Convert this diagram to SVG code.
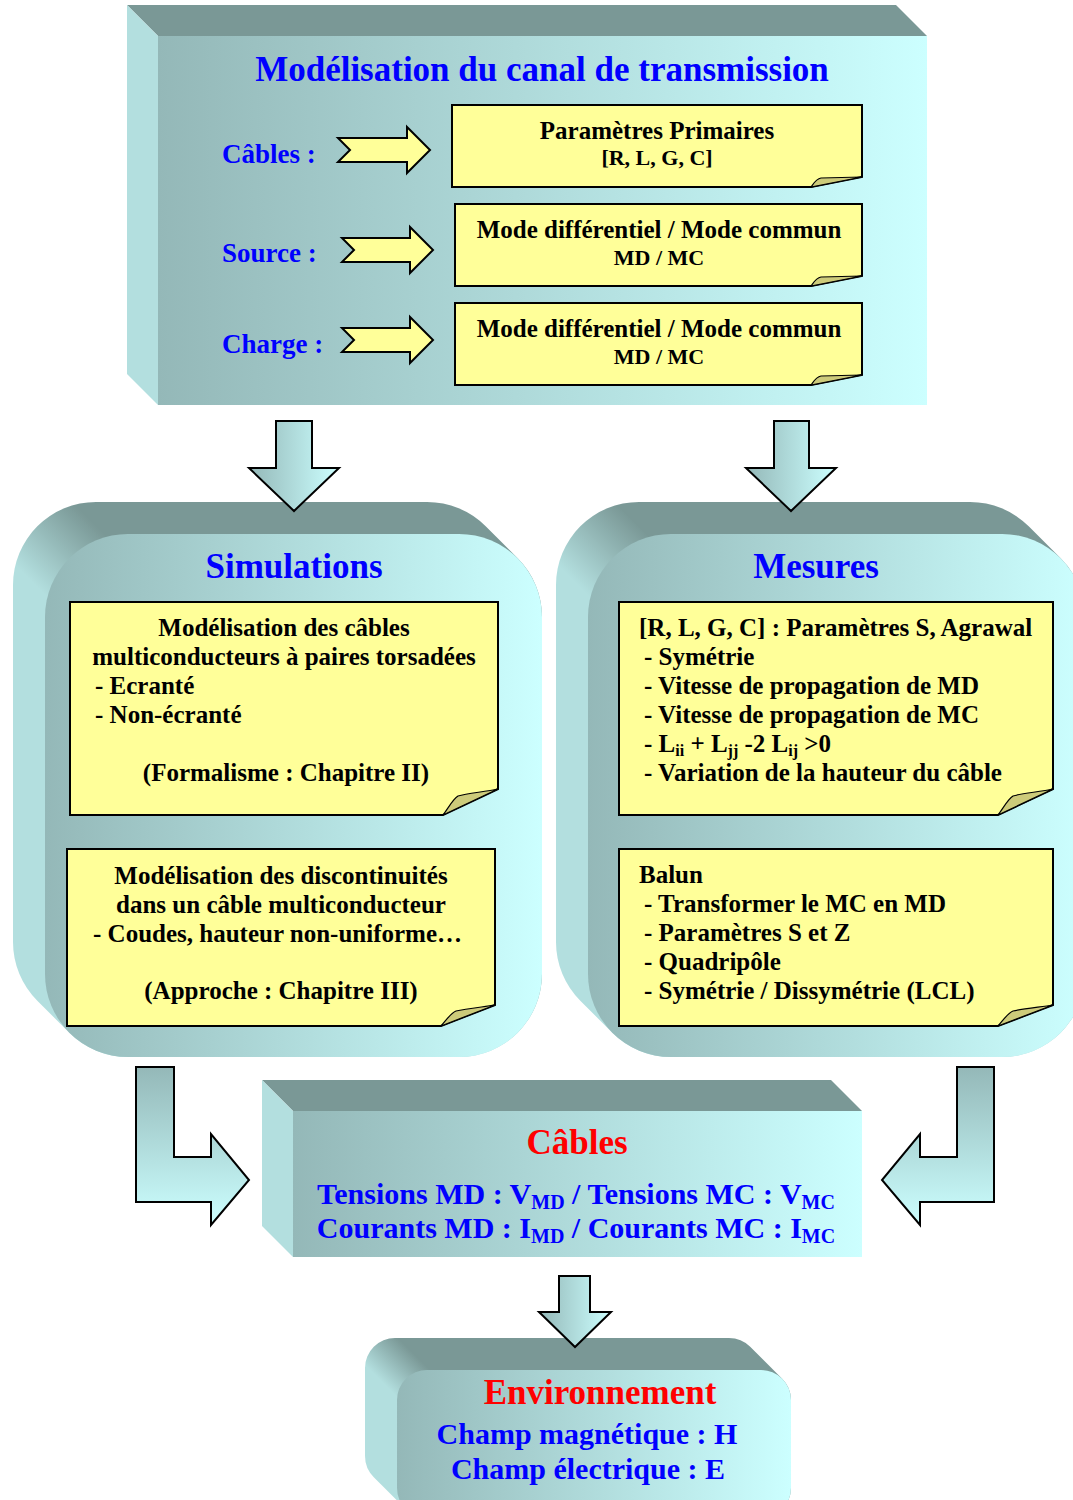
<svg xmlns="http://www.w3.org/2000/svg" width="1073" height="1500" viewBox="0 0 1073 1500">
<defs>
<linearGradient id="front" x1="0" y1="0" x2="1" y2="0">
<stop offset="0" stop-color="#94b8b8"/><stop offset="1" stop-color="#ccffff"/>
</linearGradient>
<linearGradient id="arrH" x1="0" y1="0" x2="1" y2="0">
<stop offset="0" stop-color="#94b8b8"/><stop offset="1" stop-color="#ccffff"/>
</linearGradient>
<linearGradient id="arrV" x1="0" y1="0" x2="0" y2="1">
<stop offset="0" stop-color="#94b8b8"/><stop offset="1" stop-color="#ccffff"/>
</linearGradient>
<linearGradient id="sideSim" gradientUnits="userSpaceOnUse" x1="40" y1="590" x2="100" y2="530">
<stop offset="0" stop-color="#b3dfdf"/><stop offset="1" stop-color="#7a9896"/>
</linearGradient>
<linearGradient id="sideMes" gradientUnits="userSpaceOnUse" x1="583" y1="590" x2="643" y2="530">
<stop offset="0" stop-color="#b3dfdf"/><stop offset="1" stop-color="#7a9896"/>
</linearGradient>
<linearGradient id="sideEnv" gradientUnits="userSpaceOnUse" x1="385" y1="1385" x2="415" y2="1355">
<stop offset="0" stop-color="#b3dfdf"/><stop offset="1" stop-color="#7a9896"/>
</linearGradient>
</defs>
<style>
text{font-family:"Liberation Serif","Times New Roman",serif;font-weight:bold;}
.ttl{font-size:35px;fill:#0000ff;}
.red{font-size:35px;fill:#ff0000;}
.lbl{font-size:27px;fill:#0000ff;}
.bl30{font-size:30px;fill:#0000ff;}
.n25{font-size:25px;fill:#000;}
.n22{font-size:22px;fill:#000;}
.c{text-anchor:middle;}
.note{fill:#ffff99;stroke:#000;stroke-width:2;}
.fold{fill:#cdcb7a;stroke:#000;stroke-width:1.2;}
.topf{fill:#7a9896;}
.leftf{fill:#b3dfdf;}
.yarr{fill:#ffff99;stroke:#000;stroke-width:2;stroke-linejoin:miter;}
.barr{stroke:#000;stroke-width:2;}
</style>

<g id="modelisation">
<polygon class="topf" points="127,5 896,5 927,36 158,36"/>
<polygon class="leftf" points="127,5 158,36 158,405 127,374"/>
<rect x="158" y="36" width="769" height="369" fill="url(#front)"/>
<text class="ttl c" x="542" y="81">Modélisation du canal de transmission</text>
<text class="lbl" x="222" y="163">Câbles :</text>
<text class="lbl" x="222" y="262">Source :</text>
<text class="lbl" x="222" y="353">Charge :</text>
</g>

<g id="note-parametres">
<path class="note" d="M452,105 H862 V177 L811,187 H452 Z"/>
<path class="fold" d="M811,187 C814,183 816,179 821,178 L862,177 Z"/>
<text class="n25 c" x="657" y="139">Paramètres Primaires</text>
<text class="n22 c" x="657" y="165">[R, L, G, C]</text>
</g>
<g id="note-source">
<path class="note" d="M455,204 H862 V276 L811,286 H455 Z"/>
<path class="fold" d="M811,286 C814,282 816,278 821,277 L862,276 Z"/>
<text class="n25 c" x="659" y="238">Mode différentiel / Mode commun</text>
<text class="n22 c" x="659" y="265">MD / MC</text>
</g>
<g id="note-charge">
<path class="note" d="M455,303 H862 V375 L811,385 H455 Z"/>
<path class="fold" d="M811,385 C814,381 816,377 821,376 L862,375 Z"/>
<text class="n25 c" x="659" y="337">Mode différentiel / Mode commun</text>
<text class="n22 c" x="659" y="364">MD / MC</text>
</g>

<g id="simulations">
<path fill="url(#sideSim)" d="M13,585 A83,83 0 0 1 96,502 H427 A83,83 0 0 1 485.7,526.3 L517.7,558.3 A83,83 0 0 1 542,617 V974 A83,83 0 0 1 459,1057 H128 A83,83 0 0 1 69.3,1032.7 L37.3,1000.7 A83,83 0 0 1 13,942 Z"/>
<rect x="45" y="534" width="497" height="523" rx="83" ry="83" fill="url(#front)"/>
<text class="ttl c" x="294" y="578">Simulations</text>
</g>
<g id="note-sim1">
<path class="note" d="M70,602 H498 V789 L443,815 H70 Z"/>
<path class="fold" d="M443,815 C449,807 453,799 458,796 C468,793 485,792 498,789 Z"/>
<text class="n25 c" x="284" y="636">Modélisation des câbles</text>
<text class="n25 c" x="284" y="665">multiconducteurs à paires torsadées</text>
<text class="n25" x="95" y="694">- Ecranté</text>
<text class="n25" x="95" y="723">- Non-écranté</text>
<text class="n25 c" x="286" y="781">(Formalisme : Chapitre II)</text>
</g>
<g id="note-sim2">
<path class="note" d="M67,849 H495 V1005 L441,1026 H67 Z"/>
<path class="fold" d="M441,1026 C447,1019 451,1013 456,1011 C466,1009 482,1007 495,1005 Z"/>
<text class="n25 c" x="281" y="884">Modélisation des discontinuités</text>
<text class="n25 c" x="281" y="913">dans un câble multiconducteur</text>
<text class="n25" x="93" y="942">- Coudes, hauteur non-uniforme…</text>
<text class="n25 c" x="281" y="999">(Approche : Chapitre III)</text>
</g>

<g id="mesures">
<path fill="url(#sideMes)" d="M556,585 A83,83 0 0 1 639,502 H970 A83,83 0 0 1 1028.7,526.3 L1060.7,558.3 A83,83 0 0 1 1085,617 V974 A83,83 0 0 1 1002,1057 H671 A83,83 0 0 1 612.3,1032.7 L580.3,1000.7 A83,83 0 0 1 556,942 Z"/>
<rect x="588" y="534" width="497" height="523" rx="83" ry="83" fill="url(#front)"/>
<text class="ttl c" x="816" y="578">Mesures</text>
</g>
<g id="note-mes1">
<path class="note" d="M619,602 H1053 V789 L998,815 H619 Z"/>
<path class="fold" d="M998,815 C1004,807 1008,799 1013,796 C1023,793 1040,792 1053,789 Z"/>
<text class="n25" x="639" y="636">[R, L, G, C] : Paramètres S, Agrawal</text>
<text class="n25" x="644" y="665">- Symétrie</text>
<text class="n25" x="644" y="694">- Vitesse de propagation de MD</text>
<text class="n25" x="644" y="723">- Vitesse de propagation de MC</text>
<text class="n25" x="644" y="752">- L<tspan font-size="16" dy="4">ii</tspan><tspan dy="-4"> + L</tspan><tspan font-size="16" dy="4">jj</tspan><tspan dy="-4"> -2 L</tspan><tspan font-size="16" dy="4">ij</tspan><tspan dy="-4"> &gt;0</tspan></text>
<text class="n25" x="644" y="781">- Variation de la hauteur du câble</text>
</g>
<g id="note-mes2">
<path class="note" d="M619,849 H1053 V1005 L998,1026 H619 Z"/>
<path class="fold" d="M998,1026 C1004,1019 1008,1013 1013,1011 C1023,1009 1040,1007 1053,1005 Z"/>
<text class="n25" x="639" y="883">Balun</text>
<text class="n25" x="644" y="912">- Transformer le MC en MD</text>
<text class="n25" x="644" y="941">- Paramètres S et Z</text>
<text class="n25" x="644" y="970">- Quadripôle</text>
<text class="n25" x="644" y="999">- Symétrie / Dissymétrie (LCL)</text>
</g>

<g id="cables">
<polygon class="topf" points="262,1080 831,1080 862,1111 293,1111"/>
<polygon class="leftf" points="262,1080 293,1111 293,1257 262,1226"/>
<rect x="293" y="1111" width="569" height="146" fill="url(#front)"/>
<text class="red c" x="577" y="1154">Câbles</text>
<text class="bl30 c" x="576" y="1204">Tensions MD : V<tspan font-size="20" dy="5">MD</tspan><tspan dy="-5"> / Tensions MC : V</tspan><tspan font-size="20" dy="5">MC</tspan></text>
<text class="bl30 c" x="576" y="1238">Courants MD : I<tspan font-size="20" dy="5">MD</tspan><tspan dy="-5"> / Courants MC : I</tspan><tspan font-size="20" dy="5">MC</tspan></text>
</g>

<g id="environnement">
<path fill="url(#sideEnv)" d="M365,1368 A30,30 0 0 1 395,1338 H729 A30,30 0 0 1 750.2,1346.8 L782.2,1378.8 A30,30 0 0 1 791,1400 V1488 A30,30 0 0 1 761,1518 H427 A30,30 0 0 1 405.8,1509.2 L373.8,1477.2 A30,30 0 0 1 365,1456 Z"/>
<rect x="397" y="1370" width="394" height="148" rx="30" ry="30" fill="url(#front)"/>
<text class="red c" x="600" y="1404">Environnement</text>
<text class="bl30 c" x="587" y="1444">Champ magnétique : H</text>
<text class="bl30 c" x="588" y="1479">Champ électrique : E</text>
</g>

<g id="connectors">
<polygon class="yarr" points="338,138 407,138 407,127 430,150 407,173 407,162 338,162 350,150"/>
<polygon class="yarr" points="342,238 410,238 410,227 433,250 410,273 410,262 342,262 354,250"/>
<polygon class="yarr" points="342,328 410,328 410,317 433,340 410,363 410,352 342,352 354,340"/>
<polygon class="barr" fill="url(#arrH)" points="276,421 312,421 312,468 339,468 294,511 249,468 276,468"/>
<polygon class="barr" fill="url(#arrH)" points="774,421 809,421 809,468 836,468 791,511 746,468 774,468"/>
<polygon class="barr" fill="url(#arrV)" points="136,1067 174,1067 174,1157 211,1157 211,1134 249,1180 211,1225 211,1202 136,1202"/>
<polygon class="barr" fill="url(#arrV)" points="994,1067 957,1067 957,1157 920,1157 920,1134 882,1180 920,1225 920,1202 994,1202"/>
<polygon class="barr" fill="url(#arrH)" points="559,1276 590,1276 590,1312 611,1312 575,1347 539,1312 559,1312"/>
</g>
</svg>
